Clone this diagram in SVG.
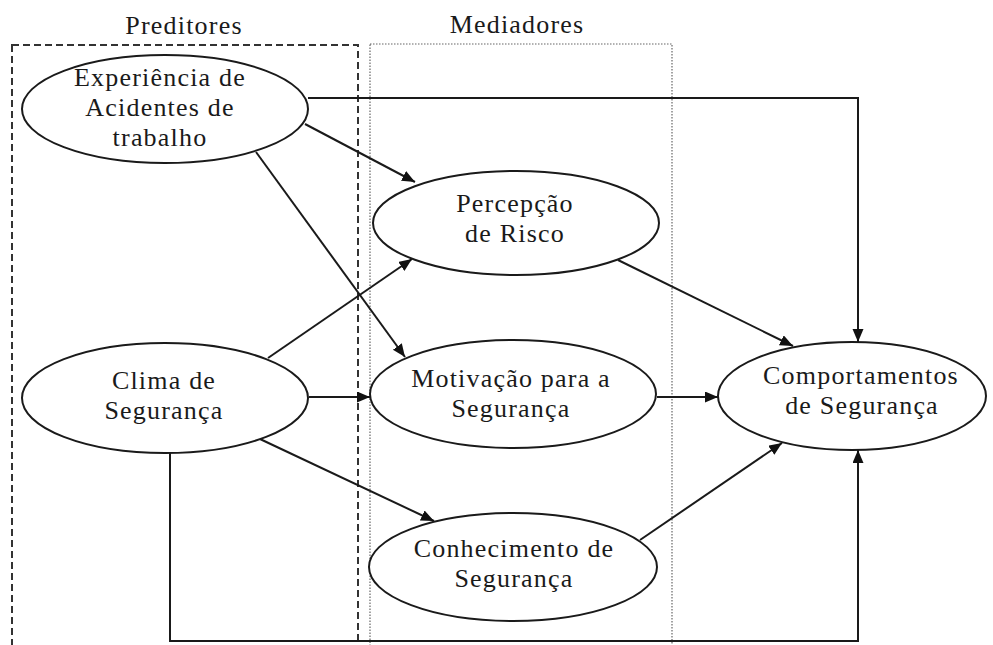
<svg xmlns="http://www.w3.org/2000/svg" width="993" height="645" viewBox="0 0 993 645">
<style>
  .bg { fill: #ffffff; }
  .node ellipse { fill: #ffffff; stroke: #1a1a1a; stroke-width: 2; }
  .node text, .lbl { font-family: "Liberation Serif", Tinos, "Times New Roman", "DejaVu Serif", serif; font-size: 26px; letter-spacing: 1.2px; fill: #1a1a1a; text-anchor: middle; }
  .conn line, .conn path { stroke: #1a1a1a; stroke-width: 2; fill: none; marker-end: url(#arr); }
  .dash { fill: none; stroke: #333; stroke-width: 2; stroke-dasharray: 7 4; }
  .dot { fill: none; stroke: #666; stroke-width: 1.2; stroke-dasharray: 1.5 1.5; }
</style>
<defs>
  <marker id="arr" markerUnits="userSpaceOnUse" markerWidth="14" markerHeight="12" refX="13" refY="5.5" orient="auto">
    <path d="M0,0 L13,5.5 L0,11 z" fill="#111"/>
  </marker>
</defs>
<rect class="bg" x="0" y="0" width="993" height="645"/>

<g id="groups">
  <rect class="dash" x="12" y="45" width="346" height="620"/>
  <rect class="dot" x="370" y="44" width="302" height="620"/>
  <text class="lbl" x="184" y="34">Preditores</text>
  <text class="lbl" x="517" y="33">Mediadores</text>
</g>

<g id="connectors" class="conn">
  <path d="M308,98 H858 V342"/>
  <line x1="305" y1="124" x2="415" y2="182"/>
  <line x1="256" y1="152" x2="405" y2="357"/>
  <line x1="268" y1="358" x2="412" y2="259"/>
  <line x1="309" y1="397" x2="370" y2="397"/>
  <line x1="260" y1="439" x2="434" y2="521"/>
  <path d="M170,452 V641 H858 V450"/>
  <line x1="618" y1="260" x2="793" y2="346"/>
  <line x1="657" y1="397" x2="718" y2="397"/>
  <line x1="640" y1="540" x2="782" y2="443"/>
</g>

<g id="experiencia" class="node">
  <ellipse cx="165" cy="109" rx="143" ry="54"/>
  <text x="160" y="86">Experiência de</text>
  <text x="160" y="116">Acidentes de</text>
  <text x="160" y="146">trabalho</text>
</g>

<g id="clima" class="node">
  <ellipse cx="165" cy="398" rx="143" ry="55"/>
  <text x="164" y="389">Clima de</text>
  <text x="164" y="419">Segurança</text>
</g>

<g id="percepcao" class="node">
  <ellipse cx="516" cy="223" rx="143" ry="52"/>
  <text x="515" y="212">Percepção</text>
  <text x="515" y="242">de Risco</text>
</g>

<g id="motivacao" class="node">
  <ellipse cx="513" cy="394" rx="143" ry="54"/>
  <text x="511" y="387">Motivação para a</text>
  <text x="511" y="417">Segurança</text>
</g>

<g id="conhecimento" class="node">
  <ellipse cx="513" cy="567" rx="144" ry="54"/>
  <text x="514" y="557">Conhecimento de</text>
  <text x="514" y="587">Segurança</text>
</g>

<g id="comportamentos" class="node">
  <ellipse cx="852" cy="396" rx="134" ry="54"/>
  <text x="861" y="384">Comportamentos</text>
  <text x="862" y="414">de Segurança</text>
</g>
</svg>
